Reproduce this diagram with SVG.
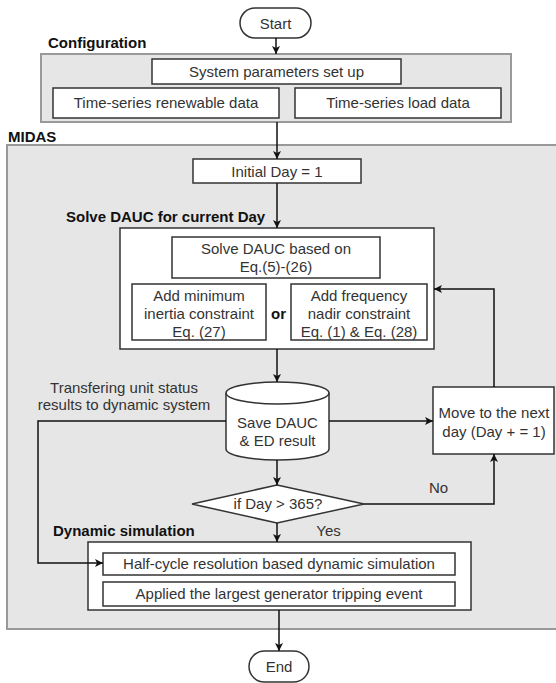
<svg xmlns="http://www.w3.org/2000/svg" width="556" height="683" viewBox="0 0 556 683">
<style>
.t{font-family:"Liberation Sans",Arial,sans-serif;font-size:15px;fill:#333;text-anchor:middle}
.b{font-family:"Liberation Sans",Arial,sans-serif;font-size:15px;font-weight:bold;fill:#111}
.box{fill:#fff;stroke:#333;stroke-width:1.5}
.grp{fill:#e6e6e6;stroke:#999;stroke-width:2}
.c{fill:none;stroke:#111;stroke-width:1.5}
</style>
<defs>
<marker id="ah" markerWidth="10" markerHeight="10" refX="8" refY="4" orient="auto" markerUnits="userSpaceOnUse">
<path d="M0,0 L8,4 L0,8 L2,4 Z" fill="#111"/>
</marker>
</defs>
<g id="configuration">
<rect class="grp" x="41" y="54" width="470" height="68"/>
<text class="b" x="48" y="48">Configuration</text>
</g>
<g id="midas">
<rect class="grp" x="7" y="145" width="560" height="484"/>
<text class="b" x="8" y="142">MIDAS</text>
</g>
<g id="start">
<rect class="box" x="240" y="8" width="71" height="30" rx="15"/>
<text class="t" x="275.5" y="29">Start</text>
</g>
<g id="sysparam">
<rect class="box" x="152" y="59" width="249" height="25"/>
<text class="t" x="276.5" y="77">System parameters set up</text>
</g>
<g id="renewable">
<rect class="box" x="53" y="88" width="226" height="30"/>
<text class="t" x="166" y="108">Time-series renewable data</text>
</g>
<g id="load">
<rect class="box" x="295" y="88" width="206" height="30"/>
<text class="t" x="398" y="108">Time-series load data</text>
</g>
<g id="initday">
<rect class="box" x="193" y="159" width="168" height="24"/>
<text class="t" x="277" y="176.5">Initial Day = 1</text>
</g>
<g id="dauc">
<rect class="box" x="120" y="228" width="314" height="121"/>
<text class="b" x="66" y="222">Solve DAUC for current Day</text>
</g>
<g id="solvedauc">
<rect class="box" x="172" y="237" width="208" height="41"/>
<text class="t" x="276" y="254">Solve DAUC based on</text>
<text class="t" x="276" y="272">Eq.(5)-(26)</text>
</g>
<g id="inertia">
<rect class="box" x="132" y="284" width="134" height="56"/>
<text class="t" x="199" y="301">Add minimum</text>
<text class="t" x="199" y="319">inertia constraint</text>
<text class="t" x="199" y="337">Eq. (27)</text>
</g>
<text class="b" x="278.5" y="319" text-anchor="middle">or</text>
<g id="nadir">
<rect class="box" x="291" y="284" width="136" height="56"/>
<text class="t" x="359" y="301">Add frequency</text>
<text class="t" x="359" y="319">nadir constraint</text>
<text class="t" x="359" y="337">Eq. (1) &amp; Eq. (28)</text>
</g>
<g id="save">
<path class="box" d="M226,393 A51.5,11 0 0 1 329,393 L329,449 A51.5,11 0 0 1 226,449 Z"/>
<path class="box" d="M226,393 A51.5,11 0 0 0 329,393" fill="none"/>
<text class="t" x="277.5" y="428">Save DAUC</text>
<text class="t" x="277.5" y="446">&amp; ED result</text>
</g>
<g id="nextday">
<rect class="box" x="433" y="387" width="121" height="67"/>
<text class="t" x="494" y="418">Move to the next</text>
<text class="t" x="494" y="437">day (Day + = 1)</text>
</g>
<g id="decision">
<polygon class="box" points="277,485 364,504 277,523 192,504"/>
<text class="t" x="278" y="509">if Day &gt; 365?</text>
</g>
<g id="dynamic">
<rect class="box" x="88" y="542" width="383" height="68"/>
<text class="b" x="53" y="536">Dynamic simulation</text>
</g>
<g id="halfcycle">
<rect class="box" x="103" y="553" width="352" height="22"/>
<text class="t" x="279" y="569">Half-cycle resolution based dynamic simulation</text>
</g>
<g id="applied">
<rect class="box" x="103" y="582" width="352" height="24"/>
<text class="t" x="279" y="599">Applied the largest generator tripping event</text>
</g>
<g id="end">
<rect class="box" x="249" y="651" width="60" height="31" rx="15.5"/>
<text class="t" x="279" y="672">End</text>
</g>
<g id="connectors">
<path class="c" d="M276,38 V54" marker-end="url(#ah)"/>
<path class="c" d="M277,122 V159" marker-end="url(#ah)"/>
<path class="c" d="M277,183 V228" marker-end="url(#ah)"/>
<path class="c" d="M277,349 V382" marker-end="url(#ah)"/>
<path class="c" d="M329,421 H433" marker-end="url(#ah)"/>
<path class="c" d="M494,387 V289 H434" marker-end="url(#ah)"/>
<path class="c" d="M226,421 H38 V563 H103" marker-end="url(#ah)"/>
<path class="c" d="M277,460 V485" marker-end="url(#ah)"/>
<path class="c" d="M364,504 H494 V454" marker-end="url(#ah)"/>
<path class="c" d="M277,523 V542" marker-end="url(#ah)"/>
<path class="c" d="M279,610 V651" marker-end="url(#ah)"/>
<text class="t" x="124" y="393">Transfering unit status</text>
<text class="t" x="124" y="410">results to dynamic system</text>
<text class="t" x="438.5" y="493">No</text>
<text class="t" x="328.5" y="536">Yes</text>
</g>
</svg>
